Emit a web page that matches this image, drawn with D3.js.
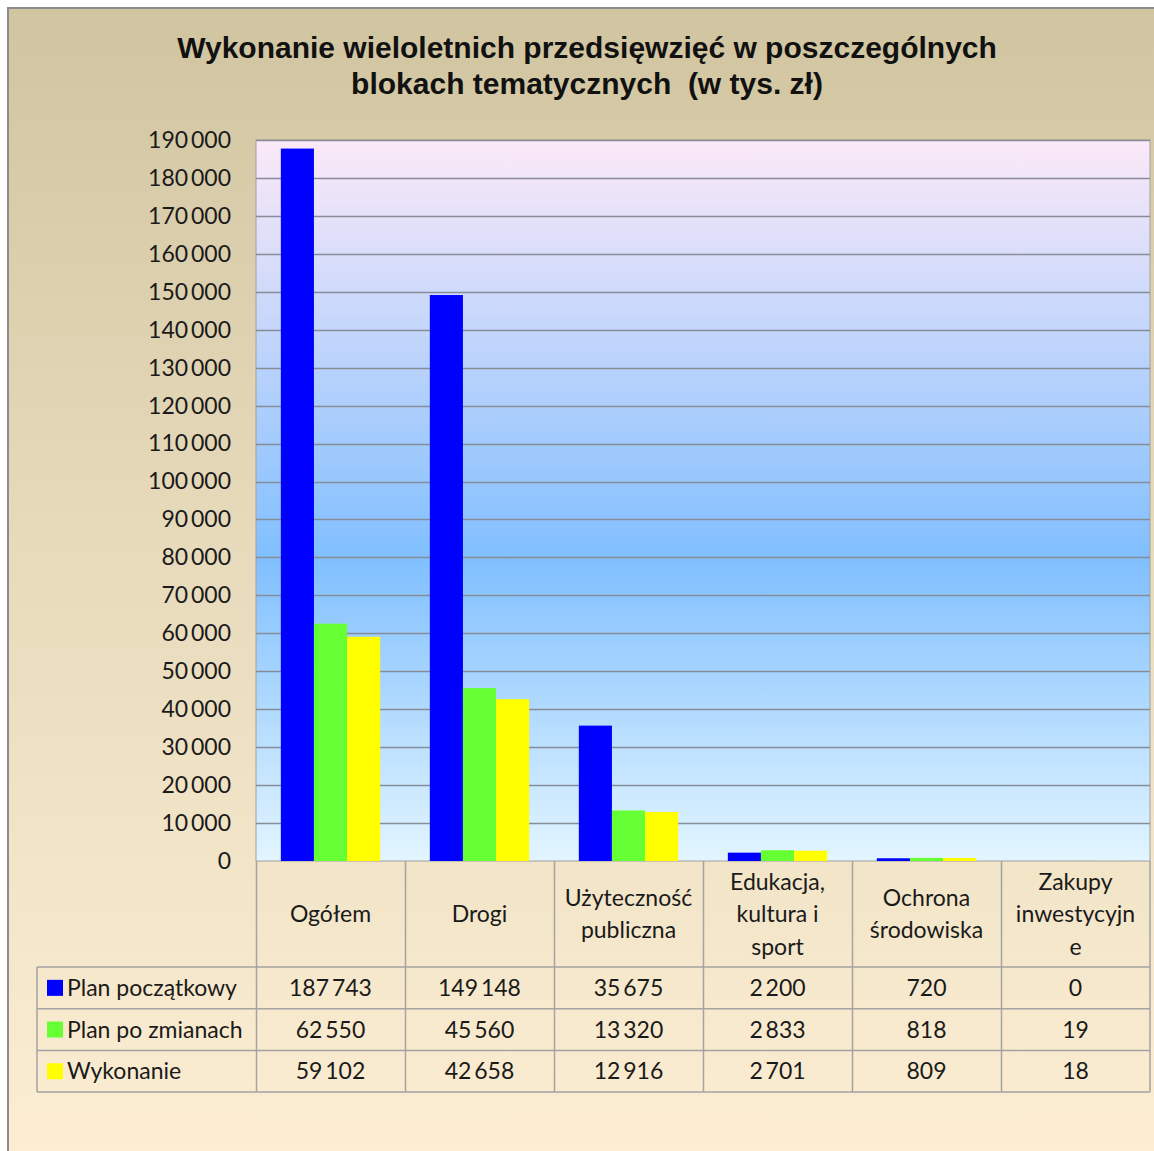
<!DOCTYPE html>
<html>
<head>
<meta charset="utf-8">
<script src="https://cdn.jsdelivr.net/npm/d3@7"></script>
<style>
  body { margin: 0; background: #fff; }
  svg { display: block; }
  .tick text, .cell, .legendText { font-family: Lato, "Open Sans", sans-serif; fill: #1a1a1a; }
</style>
</head>
<body>
<svg id="chart" width="1154" height="1151"></svg>
<script>
// ---------------- data ----------------
const categories = ["Ogółem", "Drogi", "Użyteczność|publiczna", "Edukacja,|kultura i|sport", "Ochrona|środowiska", "Zakupy|inwestycyjn|e"];
const seriesNames = ["Plan początkowy", "Plan po zmianach", "Wykonanie"];
const planPoczatkowy = [187743, 149148, 35675, 2200, 720, 0];
const planPoZmianach = [62550, 45560, 13320, 2833, 818, 19];
const wykonanie = [59102, 42658, 12916, 2701, 809, 18];
const yTicks = [0, 10000, 20000, 30000, 40000, 50000, 60000, 70000, 80000, 90000, 100000,
  110000, 120000, 130000, 140000, 150000, 160000, 170000, 180000, 190000];
const colors = ["#0000ff", "#66ff33", "#ffff00"];

const series = [planPoczatkowy, planPoZmianach, wykonanie];

// ---------------- layout ----------------
const svg = d3.select("#chart");
const plot = {left: 256, right: 1150, top: 140, bottom: 861};
const tableLeft = 37;
const headerBottom = 967;
const rowH = 41.7;

const loc = d3.formatLocale({decimal: ",", thousands: "\u2009", grouping: [3], currency: ["", " zł"]});
const fmt = loc.format(",d");

const defs = svg.append("defs");
const bgGrad = defs.append("linearGradient").attr("id", "bgGrad").attr("x1", 0).attr("y1", 0).attr("x2", 0).attr("y2", 1);
bgGrad.append("stop").attr("offset", "0%").attr("stop-color", "#d1c4a0");
bgGrad.append("stop").attr("offset", "45%").attr("stop-color", "#e6dabb");
bgGrad.append("stop").attr("offset", "100%").attr("stop-color", "#fdeed3");

const plotGrad = defs.append("linearGradient").attr("id", "plotGrad").attr("x1", 0).attr("y1", 0).attr("x2", 0).attr("y2", 1);
plotGrad.append("stop").attr("offset", "0%").attr("stop-color", "#fce9f8");
plotGrad.append("stop").attr("offset", "58%").attr("stop-color", "#80bfff");
plotGrad.append("stop").attr("offset", "100%").attr("stop-color", "#e2f5ff");

// chart frame / background
svg.append("rect")
  .attr("x", 8).attr("y", 8).attr("width", 1160).attr("height", 1160)
  .attr("fill", "url(#bgGrad)").attr("stroke", "#8c8c8c").attr("stroke-width", 2);

// title
const title = svg.append("text")
  .attr("text-anchor", "middle")
  .style("font-family", "'Liberation Sans', Arial, sans-serif")
  .style("font-weight", "bold")
  .style("font-size", "30px")
  .style("white-space", "pre")
  .attr("fill", "#111");
title.append("tspan").attr("x", 587).attr("y", 58).text("Wykonanie wieloletnich przedsięwzięć w poszczególnych");
title.append("tspan").attr("x", 587).attr("y", 94).text("blokach tematycznych  (w tys. zł)");

// scales
const x0 = d3.scaleBand().domain(d3.range(categories.length)).range([plot.left, plot.right]).paddingInner(0).paddingOuter(0);
const x1 = d3.scaleBand().domain(d3.range(seriesNames.length)).range([0, x0.bandwidth()]).paddingOuter(0.75).paddingInner(0);
const y = d3.scaleLinear().domain([0, 190000]).range([plot.bottom, plot.top]);

// plot area
svg.append("rect")
  .attr("x", plot.left).attr("y", plot.top)
  .attr("width", plot.right - plot.left).attr("height", plot.bottom - plot.top)
  .attr("fill", "url(#plotGrad)").attr("stroke", "#a0a0a0").attr("stroke-width", 1);

// gridlines
svg.append("g").selectAll("line")
  .data(yTicks.filter(d => d > 0))
  .join("line")
  .attr("x1", plot.left).attr("x2", plot.right)
  .attr("y1", d => Math.round(y(d)) + 0.5).attr("y2", d => Math.round(y(d)) + 0.5)
  .attr("stroke", "#878d96").attr("stroke-width", 1.5);

// y axis
const yAxis = svg.append("g")
  .attr("transform", `translate(${plot.left},0)`)
  .call(d3.axisLeft(y).tickValues(yTicks).tickFormat(fmt).tickSize(0).tickPadding(25));
yAxis.select(".domain").remove();
yAxis.selectAll("text").style("font-size", "23px").attr("fill", "#1a1a1a");

// bars
const groups = svg.append("g").selectAll("g")
  .data(categories.map((c, i) => ({i, vals: series.map(s => s[i])})))
  .join("g")
  .attr("transform", d => `translate(${x0(d.i)},0)`);

groups.selectAll("rect")
  .data(d => d.vals.map((v, k) => ({v, k})))
  .join("rect")
  .attr("x", d => x1(d.k))
  .attr("width", x1.bandwidth())
  .attr("y", d => y(d.v))
  .attr("height", d => y(0) - y(d.v))
  .attr("fill", d => colors[d.k]);

// ---------------- data table ----------------
const tbl = svg.append("g");
const lineColor = "#a3a3a3";
const rowsBottom = headerBottom + rowH * seriesNames.length;

// vertical lines in header + rows
x0.domain().forEach(i => {
  tbl.append("line")
    .attr("x1", x0(i) + 0.5).attr("x2", x0(i) + 0.5)
    .attr("y1", plot.bottom).attr("y2", rowsBottom)
    .attr("stroke", lineColor).attr("stroke-width", 1.5);
});
tbl.append("line")
  .attr("x1", plot.right).attr("x2", plot.right)
  .attr("y1", plot.bottom).attr("y2", rowsBottom)
  .attr("stroke", lineColor).attr("stroke-width", 1.5);
tbl.append("line")
  .attr("x1", tableLeft).attr("x2", tableLeft)
  .attr("y1", headerBottom).attr("y2", rowsBottom)
  .attr("stroke", lineColor).attr("stroke-width", 1.5);

// horizontal lines
d3.range(seriesNames.length + 1).forEach(r => {
  const yy = headerBottom + r * rowH;
  tbl.append("line")
    .attr("x1", tableLeft).attr("x2", plot.right)
    .attr("y1", yy).attr("y2", yy)
    .attr("stroke", lineColor).attr("stroke-width", 1.5);
});

// category header labels
const headerMid = (plot.bottom + headerBottom) / 2;
const lineGap = 32.5;
categories.forEach((c, i) => {
  const lines = c.split("|");
  const t = tbl.append("text")
    .attr("class", "cell")
    .attr("text-anchor", "middle")
    .style("font-size", "23px");
  lines.forEach((ln, j) => {
    t.append("tspan")
      .attr("x", x0(i) + x0.bandwidth() / 2)
      .attr("y", headerMid + (j - (lines.length - 1) / 2) * lineGap)
      .attr("dy", "0.35em")
      .text(ln);
  });
});

// legend keys + values
seriesNames.forEach((name, k) => {
  const cy = headerBottom + k * rowH + rowH / 2;
  tbl.append("rect")
    .attr("x", 47).attr("y", cy - 8).attr("width", 16).attr("height", 16)
    .attr("fill", colors[k]);
  tbl.append("text")
    .attr("class", "legendText")
    .attr("x", 67).attr("y", cy).attr("dy", "0.35em")
    .style("font-size", "23px")
    .text(name);
  series[k].forEach((v, i) => {
    tbl.append("text")
      .attr("class", "cell")
      .attr("text-anchor", "middle")
      .attr("x", x0(i) + x0.bandwidth() / 2)
      .attr("y", cy).attr("dy", "0.35em")
      .style("font-size", "23px")
      .text(fmt(v));
  });
});
</script>
</body>
</html>
